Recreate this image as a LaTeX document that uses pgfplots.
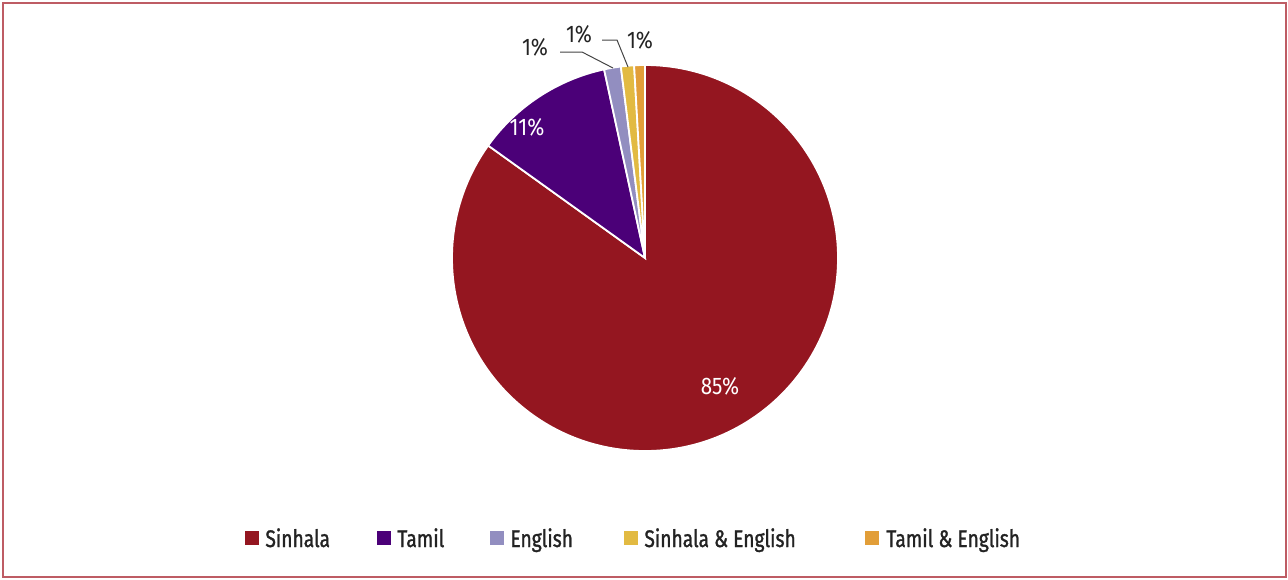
\documentclass[border=0pt]{standalone}
\usepackage{fontspec}
\usepackage{pgfplots}
\usepackage{pgfplotstable}
\pgfplotsset{compat=1.18}
\setmainfont{Fira Sans}[FakeStretch=0.86]
\newfontfamily\legfont{Fira Sans}[FakeStretch=0.8,FakeBold=1.2]

\definecolor{cSinhala}{RGB}{148,22,32}
\definecolor{cTamil}{RGB}{75,0,120}
\definecolor{cEnglish}{RGB}{146,142,192}
\definecolor{cSiEn}{RGB}{226,186,66}
\definecolor{cTaEn}{RGB}{226,158,56}
\definecolor{cFrame}{RGB}{190,92,100}
\definecolor{cText}{RGB}{35,35,35}

% share of each language (%), clockwise from 12 o'clock
\pgfplotstableread{
lang  value
Sinhala 84.9
Tamil   11.7
English 1.4
SiEn    1.1
TaEn    0.9
}\langdata

\begin{document}
\begin{tikzpicture}
% cumulative angles (tikz degrees, going clockwise from the top)
\pgfplotstablegetelem{0}{value}\of\langdata \pgfmathsetmacro\aA{90-3.6*\pgfplotsretval}
\pgfplotstablegetelem{1}{value}\of\langdata \pgfmathsetmacro\aB{\aA-3.6*\pgfplotsretval}
\pgfplotstablegetelem{2}{value}\of\langdata \pgfmathsetmacro\aC{\aB-3.6*\pgfplotsretval}
\pgfplotstablegetelem{3}{value}\of\langdata \pgfmathsetmacro\aD{\aC-3.6*\pgfplotsretval}
\pgfplotstablegetelem{4}{value}\of\langdata \pgfmathsetmacro\aE{\aD-3.6*\pgfplotsretval}
\def\R{96.5pt}
\begin{axis}[
  scale only axis,
  x=0.5pt,y=0.5pt,
  xmin=0,xmax=1288,ymin=0,ymax=579,
  y dir=reverse,
  hide axis,clip=false,
]
\path (axis cs:0,0) (axis cs:1288,579);
\draw[cFrame,line width=1.2pt] (axis cs:3,3) rectangle (axis cs:1286,577);

\filldraw[fill=cSinhala,draw=white,line width=0.9pt]
  (axis cs:645,258) -- ++(90:\R) arc[start angle=90,end angle=\aA,radius=\R] -- cycle;
\filldraw[fill=cTamil,draw=white,line width=0.9pt]
  (axis cs:645,258) -- ++(\aA:\R) arc[start angle=\aA,end angle=\aB,radius=\R] -- cycle;
\filldraw[fill=cEnglish,draw=white,line width=0.9pt]
  (axis cs:645,258) -- ++(\aB:\R) arc[start angle=\aB,end angle=\aC,radius=\R] -- cycle;
\filldraw[fill=cSiEn,draw=white,line width=0.9pt]
  (axis cs:645,258) -- ++(\aC:\R) arc[start angle=\aC,end angle=\aD,radius=\R] -- cycle;
\filldraw[fill=cTaEn,draw=white,line width=0.9pt]
  (axis cs:645,258) -- ++(\aD:\R) arc[start angle=\aD,end angle=\aE,radius=\R] -- cycle;

% data labels
\node[white,font=\fontsize{12}{14}\selectfont] at (axis cs:720,386) {85\%};
\node[white,font=\fontsize{12}{14}\selectfont] at (axis cs:527,127) {11\%};
\node[cText,font=\fontsize{12}{14}\selectfont] at (axis cs:535,47) {1\%};
\node[cText,font=\fontsize{12}{14}\selectfont] at (axis cs:579,34) {1\%};
\node[cText,font=\fontsize{12}{14}\selectfont] at (axis cs:640,40) {1\%};
\draw[cText!85,line width=0.5pt] (axis cs:560,52) -- (axis cs:582,52) -- (axis cs:613,68);
\draw[cText!85,line width=0.5pt] (axis cs:602,40) -- (axis cs:617,40) -- (axis cs:628,67);

% legend
\fill[cSinhala] (axis cs:245,531) rectangle (axis cs:259,545);
\node[anchor=base west,inner sep=0,text=cText,font=\legfont\fontsize{12}{14}\selectfont] at (axis cs:265,547) {Sinhala};
\fill[cTamil] (axis cs:377,531) rectangle (axis cs:391,545);
\node[anchor=base west,inner sep=0,text=cText,font=\legfont\fontsize{12}{14}\selectfont] at (axis cs:397,547) {Tamil};
\fill[cEnglish] (axis cs:490,531) rectangle (axis cs:504,545);
\node[anchor=base west,inner sep=0,text=cText,font=\legfont\fontsize{12}{14}\selectfont] at (axis cs:510,547) {English};
\fill[cSiEn] (axis cs:624,531) rectangle (axis cs:638,545);
\node[anchor=base west,inner sep=0,text=cText,font=\legfont\fontsize{12}{14}\selectfont] at (axis cs:644,547) {Sinhala \& English};
\fill[cTaEn] (axis cs:865,531) rectangle (axis cs:879,545);
\node[anchor=base west,inner sep=0,text=cText,font=\legfont\fontsize{12}{14}\selectfont] at (axis cs:886,547) {Tamil \& English};
\end{axis}
\end{tikzpicture}
\end{document}
